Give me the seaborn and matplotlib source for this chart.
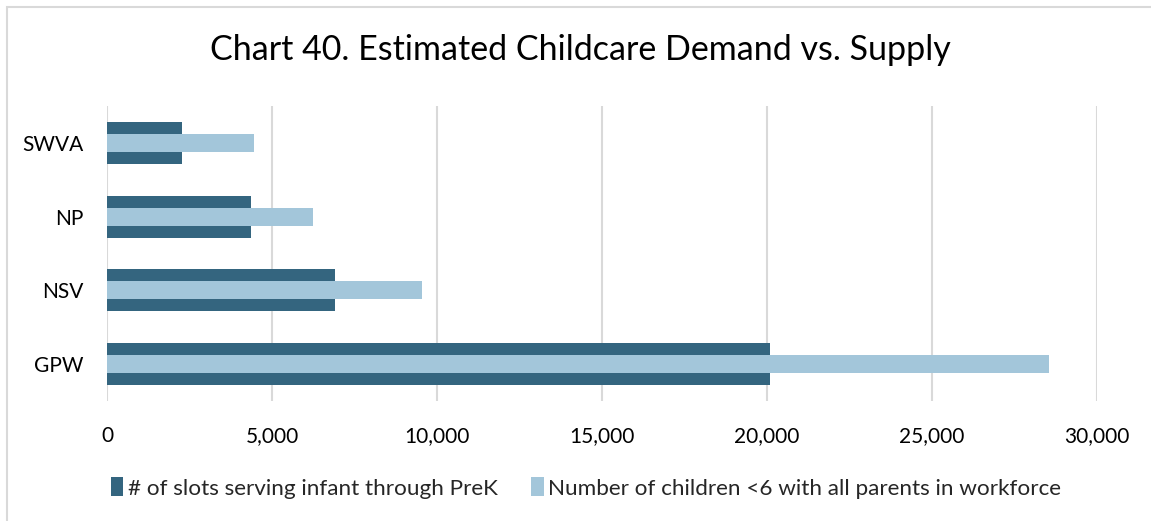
import matplotlib
matplotlib.use("Agg")
import matplotlib.pyplot as plt
import seaborn as sns
import pandas as pd
from matplotlib.patches import Rectangle, Patch
from matplotlib.ticker import FuncFormatter

categories = ["SWVA", "NP", "NSV", "GPW"]
slots = [2275, 4357, 6895, 20080]
children = [4467, 6237, 9545, 28560]
series_names = ["# of slots serving infant through PreK",
                "Number of children <6 with all parents in workforce"]
xticks = [0, 5000, 10000, 15000, 20000, 25000, 30000]

dark = "#34657F"
light = "#A3C6DA"

sns.set_theme(style="white")
plt.rcParams["font.family"] = ["Lato", "DejaVu Sans"]

df = pd.DataFrame({"region": categories, "slots": slots, "children": children})

fig = plt.figure(figsize=(11.51, 5.21), dpi=100)
ax = fig.add_axes([107/1151, 1-401/521, (1097-107)/1151, (401-106)/521])

sns.barplot(data=df, y="region", x="slots", order=categories, color=dark,
            width=0.57, saturation=1, ax=ax, orient="h", linewidth=0)
sns.barplot(data=df, y="region", x="children", order=categories, color=light,
            width=0.245, saturation=1, ax=ax, orient="h", linewidth=0)

ax.set_xlim(0, 30000)
ax.set_ylim(3.5, -0.5)
ax.set_xticks(xticks)
ax.xaxis.set_major_formatter(FuncFormatter(lambda v, p: f"{int(v):,}"))
ax.grid(axis="x", color="#D9D9D9", linewidth=1.5)
ax.set_axisbelow(True)
for s in ax.spines.values():
    s.set_visible(False)
ax.set_xlabel("")
ax.set_ylabel("")
ax.tick_params(axis="x", length=0, pad=18, labelsize=15, labelcolor="#000000")
ax.tick_params(axis="y", length=0, pad=17, labelsize=15, labelcolor="#000000")

fig.text(580/1151, 1-50/521, "Chart 40. Estimated Childcare Demand vs. Supply",
         ha="center", va="center", fontsize=24.5, color="#000000")

handles = [Patch(facecolor=dark, edgecolor="none"), Patch(facecolor=light, edgecolor="none")]
fig.legend(handles, series_names, loc="center", bbox_to_anchor=(586/1151, 1-488/521),
           ncol=2, frameon=False, fontsize=16.2, handlelength=0.55, handleheight=0.9,
           handletextpad=0.2, columnspacing=1.5)

fig.patches.append(Rectangle((7/1151, -0.1), 1.2, 1-7/521+0.1, transform=fig.transFigure,
                             fill=False, edgecolor="#D9D9D9", linewidth=1.5))

fig.savefig("out.png", dpi=100)
